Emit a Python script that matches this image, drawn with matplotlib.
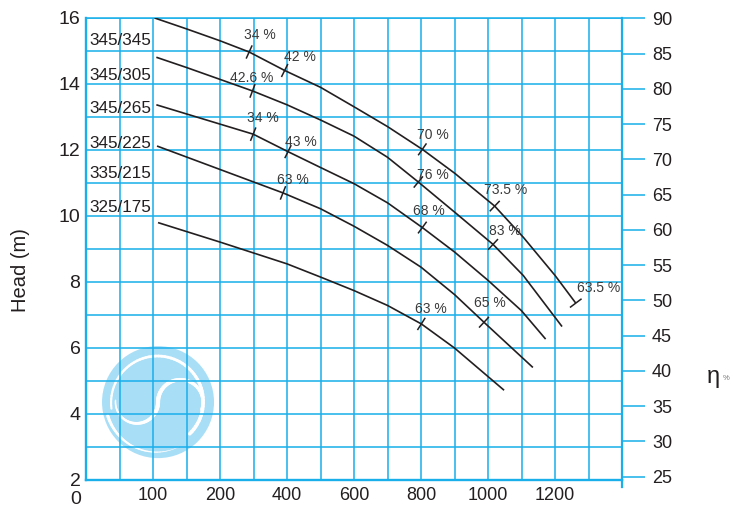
import numpy as np
import matplotlib
matplotlib.use("Agg")
import matplotlib.pyplot as plt
import matplotlib.transforms as mtransforms
from matplotlib.patches import Circle
from matplotlib.collections import LineCollection

plt.rcParams["font.family"] = ["Liberation Sans", "DejaVu Sans"]

# impeller names written in the left column
curve_names = ["345/345", "345/305", "345/265", "345/225", "335/215", "325/175"]

# H-Q curves (flow in axis units, head in m)
flow_1 = [5, 100, 200, 287, 393, 500, 600, 700, 804, 900, 1020, 1105, 1200, 1262]
head_1 = [16.0, 15.67, 15.31, 14.97, 14.41, 13.90, 13.31, 12.71, 12.02, 11.30, 10.30, 9.36, 8.20, 7.36]
flow_2 = [10, 100, 200, 297, 400, 500, 600, 700, 792, 900, 1015, 1105, 1221]
head_2 = [14.81, 14.50, 14.14, 13.79, 13.37, 12.91, 12.42, 11.78, 11.03, 10.12, 9.14, 8.20, 6.65]
flow_3 = [10, 299, 403, 500, 600, 700, 804, 900, 1000, 1100, 1172]
head_3 = [13.37, 12.48, 11.95, 11.47, 10.98, 10.40, 9.65, 8.91, 8.05, 7.13, 6.27]
flow_4 = [12, 388, 500, 600, 700, 800, 900, 988, 1134]
head_4 = [12.12, 10.70, 10.22, 9.69, 9.11, 8.45, 7.62, 6.78, 5.41]
flow_5 = [15, 200, 400, 500, 600, 700, 801, 900, 1048]
head_5 = [9.80, 9.21, 8.55, 8.15, 7.74, 7.29, 6.73, 6.00, 4.72]

# efficiency marks on the curves
eff_curve = [0, 0, 0, 0, 0, 1, 1, 1, 2, 2, 2, 3, 3, 4]
eff_flow = [287, 393, 804, 1020, 1262, 297, 792, 1015, 299, 403, 804, 388, 988, 801]
eff_head = [14.97, 14.41, 12.02, 10.30, 7.36, 13.79, 11.03, 9.14, 12.48, 11.95, 9.65, 10.70, 6.78, 6.73]
eff_text = ["34 %", "42 %", "70 %", "73.5 %", "63.5 %", "42.6 %", "76 %", "83 %",
            "34 %", "43 %", "68 %", "63 %", "65 %", "63 %"]

x_ticks = [0, 200, 400, 600, 800, 1000, 1200]
x_labels = ["100", "200", "400", "600", "800", "1000", "1200"]
eta_ticks = list(range(25, 91, 5))

CYAN = "#18AFEA"
DARK = "#231F20"

curves = [(flow_1, head_1), (flow_2, head_2), (flow_3, head_3), (flow_4, head_4), (flow_5, head_5)]

fig = plt.figure(figsize=(7.31, 5.14), dpi=100)
ax = fig.add_axes([86 / 731, 34 / 514, 536 / 731, 462 / 514])
ax.set_xlim(-200, 1400)
ax.set_ylim(2, 16)

ax.set_xticks(x_ticks)
ax.set_xticklabels(x_labels)
ax.set_xticks(np.arange(-100, 1400, 100), minor=True)
ax.set_yticks(range(2, 17, 2))
ax.set_yticks(range(3, 16, 2), minor=True)
ax.grid(which="both", color=CYAN, lw=1.1)
ax.tick_params(which="both", length=0, labelcolor=DARK)
ax.tick_params(axis="x", labelsize=13, pad=5)
ax.tick_params(axis="y", labelsize=14, pad=4)
for s in ["left", "bottom"]:
    ax.spines[s].set_color(CYAN)
    ax.spines[s].set_linewidth(1.7)
ax.spines["top"].set_color(CYAN)
ax.spines["top"].set_linewidth(1.1)
ax.spines["right"].set_visible(False)

# right axis for efficiency
ax2 = ax.twinx()
ax2.set_ylim(24.53, 90.04)
ax2.set_yticks(eta_ticks)
ax2.tick_params(axis="y", direction="out", length=16.5, width=1.1, color=CYAN,
                pad=5, labelsize=13, labelcolor=DARK)
for s in ["left", "top", "bottom"]:
    ax2.spines[s].set_visible(False)
ax2.spines["right"].set_color(CYAN)
ax2.spines["right"].set_linewidth(1.6)
ax2.plot([1, 1], [0, -0.015], transform=ax2.transAxes, color=CYAN, lw=1.6, clip_on=False)

# watermark logo
lt = (mtransforms.Affine2D().scale(0.56) + fig.dpi_scale_trans
      + mtransforms.ScaledTranslation(15, 4.36, ax.transData))
ax.add_patch(Circle((0, 0), 1, color="#A9DEF7", transform=lt, zorder=1, lw=0))


def white_arc(cx, cy, r0, r1, a0, a1, w0, w1):
    th = np.radians(np.linspace(a0, a1, 60))
    rr = np.linspace(r0, r1, 60)
    pts = np.column_stack([cx + rr * np.cos(th), cy + rr * np.sin(th)])
    segs = np.stack([pts[:-1], pts[1:]], axis=1)
    lc = LineCollection(segs, colors="white", linewidths=np.linspace(w0, w1, 59),
                        transform=lt, zorder=1.2, capstyle="round")
    ax.add_collection(lc)


white_arc(0, 0, 0.93, 0.88, 195, 295, 2.2, 0.2)
white_arc(0, 0, 0.84, 0.80, 188, -45, 1.5, 2.6)
white_arc(-0.38, 0, 0.38, 0.38, 175, 360, 1.0, 3.0)
white_arc(0.40, 0, 0.40, 0.40, 180, -20, 3.0, 2.0)

# curves
for fl, hd in curves:
    ax.plot(fl, hd, color=DARK, lw=1.2, zorder=3, solid_capstyle="butt", solid_joinstyle="round")

# efficiency tick marks and labels
lab_off = [(11, 17), (15, 13), (11, 14), (11, 16), (23, 15), (-1, 13), (15, 7), (12, 13),
           (10, 16), (13, 10), (7, 17), (10, 13), (6, 19), (10, 15)]
for i in range(len(eff_text)):
    fl, hd = curves[eff_curve[i]]
    f = eff_flow[i]
    fa, fb = max(f - 25, fl[0]), min(f + 25, fl[-1])
    pa = ax.transData.transform((fa, np.interp(fa, fl, hd)))
    pb = ax.transData.transform((fb, np.interp(fb, fl, hd)))
    d = (pb - pa) / np.hypot(*(pb - pa))
    n = np.array([-d[1], d[0]])
    p0 = ax.transData.transform((f, eff_head[i]))
    q = ax.transData.inverted().transform([p0 - 6.5 * n, p0 + 6.5 * n])
    ax.plot(q[:, 0], q[:, 1], color=DARK, lw=1.1, zorder=3)
    ax.annotate(eff_text[i], (f, eff_head[i]), xytext=lab_off[i], textcoords="offset pixels",
                ha="center", va="center", fontsize=10, color="#3a3a3a", zorder=4)

# impeller names
name_y = [15.33, 14.27, 13.27, 12.21, 11.30, 10.27]
for nm, y in zip(curve_names, name_y):
    ax.text(-189, y, nm, ha="left", va="center", fontsize=12.3, color=DARK, zorder=4)

fig.text(20 / 731, 1 - 270 / 514, "Head (m)", rotation=90, ha="center", va="center",
         fontsize=14.5, color=DARK)
fig.text(76 / 731, 1 - 499 / 514, "0", ha="center", va="center", fontsize=14, color=DARK)
fig.text(713 / 731, 1 - 377 / 514, "η", ha="center", va="center", fontsize=17, color=DARK)
fig.text(726 / 731, 1 - 378 / 514, "%", ha="center", va="center", fontsize=5.5, color="#777777")

fig.savefig("out.png", dpi=100)
